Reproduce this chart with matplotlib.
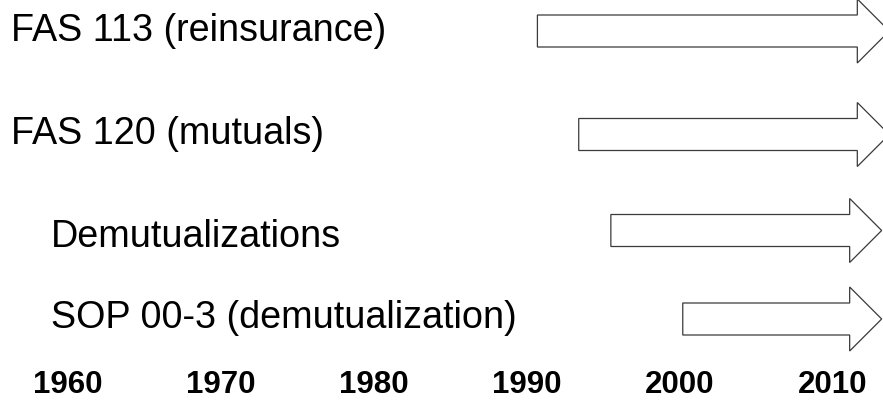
"""Timeline of accounting standards: arrows from the start year to the right edge."""

import matplotlib
matplotlib.use("Agg")
import matplotlib.pyplot as plt
from matplotlib.patches import FancyArrow
from matplotlib.transforms import blended_transform_factory

plt.rcParams["font.family"] = ["Liberation Sans", "DejaVu Sans"]

# Data
labels = [
    "FAS 113 (reinsurance)",
    "FAS 120 (mutuals)",
    "Demutualizations",
    "SOP 00-3 (demutualization)",
]
start_years = [1990.7, 1993.4, 1995.5, 2000.2]
end_years = [2013.7, 2013.7, 2013.2, 2013.2]
tick_years = [1960, 1970, 1980, 1990, 2000, 2010]

# Layout (rows in pixel units from the top)
row_y = [31, 134.5, 230.5, 319]
label_base = [41, 144, 247, 328]
label_x = [11, 11, 51, 51]

fig = plt.figure(figsize=(8.83, 4.0), dpi=100)
ax = fig.add_axes([0, 0, 1, 1])
ax.set_xlim(1955.575, 1955.575 + 883 / 15.3)
ax.set_ylim(400, 0)
ax.axis("off")

head_len = 32 / 15.3
for start, end, y in zip(start_years, end_years, row_y):
    arrow = FancyArrow(
        start, y, end - start, 0,
        width=32, head_width=64, head_length=head_len,
        length_includes_head=True,
        facecolor="white", edgecolor="#3a3a3a", linewidth=0.9,
    )
    ax.add_patch(arrow)

trans = blended_transform_factory(fig.transFigure, ax.transData)
for text, x, y in zip(labels, label_x, label_base):
    ax.text(x / 883, y, text, transform=trans, fontsize=27.2,
            ha="left", va="baseline", color="black")

for yr in tick_years:
    ax.text(yr, 393, str(yr), fontsize=22.5, fontweight="bold",
            ha="center", va="baseline", color="black")

fig.savefig("out.png", dpi=100)
